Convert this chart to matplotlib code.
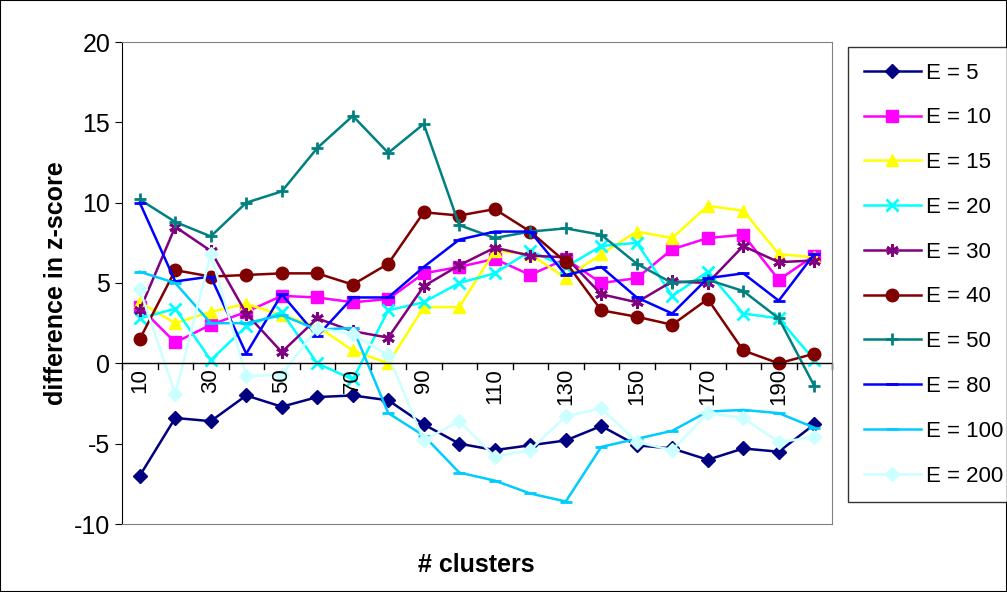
import matplotlib
matplotlib.use("Agg")
import matplotlib.pyplot as plt
from matplotlib.patches import Rectangle

plt.rcParams['font.family'] = ['Liberation Sans', 'DejaVu Sans']
plt.rcParams['axes.unicode_minus'] = False

clusters = list(range(10, 201, 10))
series = {
    "E = 5":   [-7, -3.4, -3.6, -2, -2.7, -2.1, -2, -2.3, -3.8, -5, -5.4, -5.1, -4.8, -3.9, -5.1, -5.3, -6, -5.3, -5.5, -3.8],
    "E = 10":  [3.5, 1.3, 2.4, 3.2, 4.2, 4.1, 3.8, 4.0, 5.6, 6.0, 6.5, 5.5, 6.5, 5.0, 5.3, 7.1, 7.8, 8.0, 5.2, 6.7],
    "E = 15":  [3.8, 2.5, 3.2, 3.7, 3.0, 2.3, 0.8, 0.0, 3.5, 3.5, 7.0, 6.8, 5.3, 6.8, 8.2, 7.8, 9.8, 9.5, 6.8, 6.6],
    "E = 20":  [2.8, 3.4, 0.2, 2.3, 3.2, 0.0, -1.0, 3.3, 3.8, 5.0, 5.6, 7.0, 6.0, 7.3, 7.5, 4.2, 5.7, 3.1, 2.8, 0.2],
    "E = 30":  [3.3, 8.5, 7.0, 3.1, 0.7, 2.8, 2.0, 1.6, 4.8, 6.1, 7.2, 6.7, 6.6, 4.3, 3.8, 5.1, 5.0, 7.3, 6.3, 6.4],
    "E = 40":  [1.5, 5.8, 5.4, 5.5, 5.6, 5.6, 4.9, 6.2, 9.4, 9.2, 9.6, 8.2, 6.3, 3.3, 2.9, 2.4, 4.0, 0.8, 0.0, 0.6],
    "E = 50":  [10.2, 8.8, 7.9, 10.0, 10.7, 13.4, 15.4, 13.1, 14.9, 8.6, 7.8, 8.2, 8.4, 8.0, 6.2, 5.0, 5.2, 4.5, 2.8, -1.4],
    "E = 80":  [10.0, 5.1, 5.4, 0.6, 4.3, 1.7, 4.1, 4.1, 6.0, 7.7, 8.2, 8.2, 5.5, 6.0, 4.1, 3.1, 5.3, 5.6, 3.9, 6.8],
    "E = 100": [5.7, 5.0, 2.5, 2.5, 3.0, 2.1, 2.2, -3.1, -4.5, -6.8, -7.3, -8.1, -8.6, -5.2, -4.7, -4.2, -3.0, -2.9, -3.1, -4.0],
    "E = 200": [4.6, -1.9, 6.8, -0.8, -0.7, 2.2, 1.8, 0.5, -4.8, -3.6, -5.8, -5.4, -3.3, -2.8, -4.9, -5.4, -3.1, -3.4, -4.9, -4.6],
}
styles = {
    "E = 5":   ("#000080", "D", 7),
    "E = 10":  ("#FF00FF", "s", 9),
    "E = 15":  ("#FFFF00", "^", 9),
    "E = 20":  ("#00FFFF", "x", 8),
    "E = 30":  ("#800080", (6, 2, 0), 9),
    "E = 40":  ("#800000", "o", 9),
    "E = 50":  ("#008080", "+", 9),
    "E = 80":  ("#0000FF", "_", 8),
    "E = 100": ("#00CCFF", "_", 8),
    "E = 200": ("#CCFFFF", "D", 7),
}

fig = plt.figure(figsize=(10.07, 5.92), dpi=100)
fig.patches.append(Rectangle((0, 0), 1, 1, transform=fig.transFigure, fill=False, ec="black", lw=1.5))
ax = fig.add_axes([122/1007, 1-524/592, 710/1007, 482/592])
xs = list(range(len(clusters)))
for name, vals in series.items():
    c, m, ms = styles[name]
    mew = 2 if m in ("x", "+", "_", (6, 2, 0)) else 1
    ax.plot(xs, vals, color=c, marker=m, markersize=ms, lw=1.8, mec=c, mfc=c, mew=mew, label=name)

ax.set_xlim(-0.5, len(clusters)-0.5)
ax.set_ylim(-10, 20)
ax.set_yticks(range(-10, 21, 5))
ax.tick_params(axis="y", labelsize=18, direction="out", length=5)
for s in ("top", "right", "left", "bottom"):
    ax.spines[s].set_color("#808080")
ax.spines["left"].set_color("black")
ax.axhline(0, color="black", lw=1)
ax.set_xticks([])
for i in range(len(clusters)+1):
    ax.plot([i-0.5, i-0.5], [0, -0.35], color="black", lw=1, clip_on=False)
for i in range(0, len(clusters), 2):
    ax.text(xs[i], -0.3, str(clusters[i]), rotation=90, ha="center", va="top", fontsize=16)
ax.set_ylabel("difference in z-score", fontsize=18, fontweight="bold")
fig.text(476/1007, 1-565/592, "# clusters", fontsize=18, fontweight="bold", ha="center", va="center")

leg = fig.legend(loc="upper left", bbox_to_anchor=(848/1007, 1-47/592), fontsize=16,
                 frameon=True, fancybox=False, edgecolor="black", labelspacing=1.07,
                 handlelength=2.6, borderpad=0.7, handletextpad=0.2, borderaxespad=0)
leg.get_frame().set_linewidth(1)
fig.savefig("out.png", dpi=100)
